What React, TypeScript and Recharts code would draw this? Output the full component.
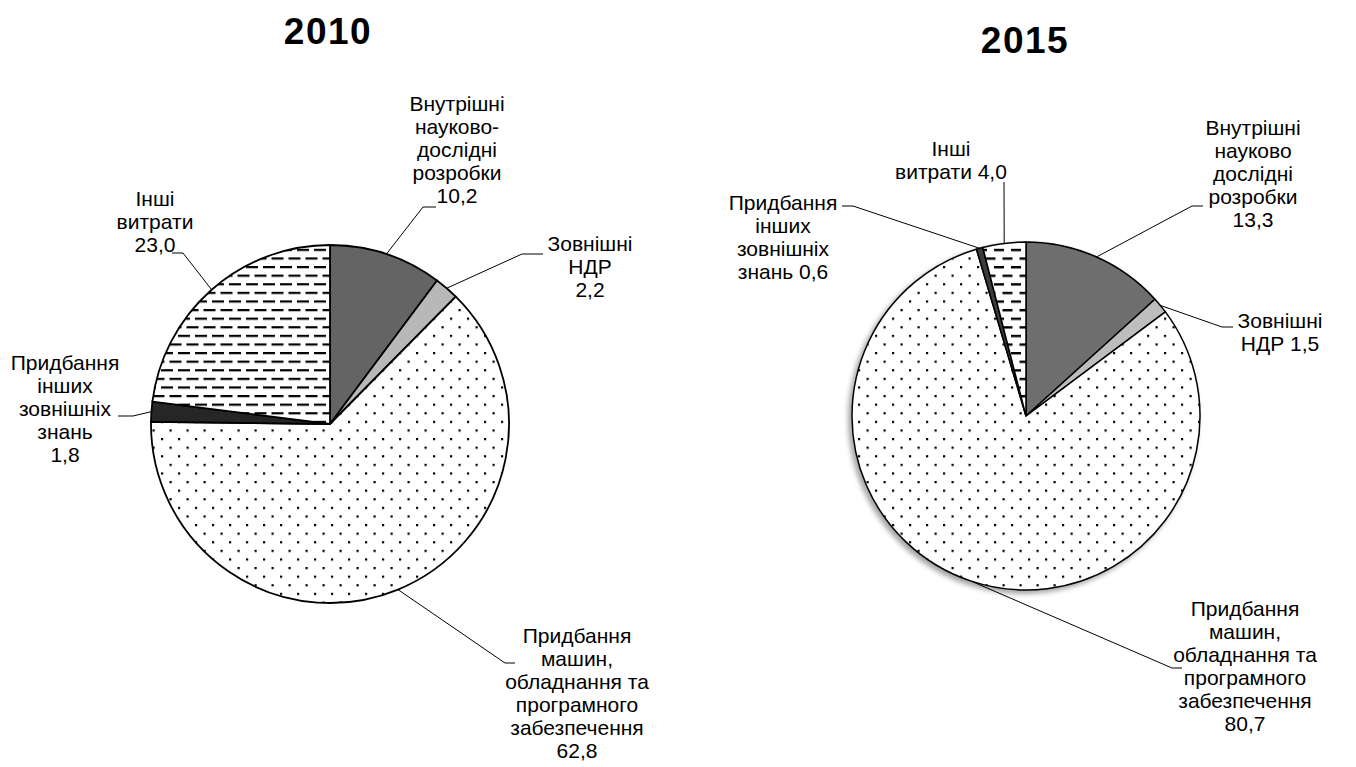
import React from 'react';
import { PieChart, Pie, Cell } from 'recharts';

// ---------- data ----------
const categories = [
  'Внутрішні науково-дослідні розробки',
  'Зовнішні НДР',
  'Придбання машин, обладнання та програмного забезпечення',
  'Придбання інших зовнішніх знань',
  'Інші витрати',
];
const years = ['2010', '2015'];
const values2010 = [10.2, 2.2, 62.8, 1.8, 23.0];
const values2015 = [13.3, 1.5, 80.7, 0.6, 4.0];

const labelLines2010 = [
  ['Внутрішні', 'науково-', 'дослідні', 'розробки'],
  ['Зовнішні', 'НДР'],
  ['Придбання', 'машин,', 'обладнання та', 'програмного', 'забезпечення'],
  ['Придбання', 'інших', 'зовнішніх', 'знань'],
  ['Інші', 'витрати'],
];
const valueInline2010 = [false, false, false, false, false];

const labelLines2015 = [
  ['Внутрішні', 'науково', 'дослідні', 'розробки'],
  ['Зовнішні', 'НДР'],
  ['Придбання', 'машин,', 'обладнання та', 'програмного', 'забезпечення'],
  ['Придбання', 'інших', 'зовнішніх', 'знань'],
  ['Інші', 'витрати'],
];
const valueInline2015 = [false, true, false, true, true];

// ---------- layout (page coordinates) ----------
const OFF = 8;
type LabelLayout = { tx: number; ty: number; pts: number[][] };
const layout2010: LabelLayout[] = [
  { tx: 457, ty: 103, pts: [[423, 207], [436, 207]] },
  { tx: 590, ty: 243, pts: [[522, 254], [543, 254]] },
  { tx: 577, ty: 635, pts: [[505, 663], [515, 663]] },
  { tx: 65, ty: 362, pts: [[133, 416], [118, 416]] },
  { tx: 155, ty: 198, pts: [[183, 253], [172, 253]] },
];
const layout2015: LabelLayout[] = [
  { tx: 1253, ty: 127, pts: [[1192, 206], [1203, 206]] },
  { tx: 1280, ty: 320, pts: [[1222, 327], [1233, 327]] },
  { tx: 1245, ty: 608, pts: [[1172, 668], [1182, 668]] },
  { tx: 783, ty: 202, pts: [[853, 206], [842, 206]] },
  { tx: 951, ty: 148, pts: [[1004, 182]] },
];

const fills2010 = ['#646464', '#b8b8b8', 'url(#dots)', '#262626', 'url(#dashes)'];
const fills2015 = ['#6e6e6e', '#bdbdbd', 'url(#dots)', '#3c3c3c', 'url(#dashes2)'];

const FONT = '"Liberation Sans", Arial, sans-serif';
const LINE_H = 23;
const RAD = Math.PI / 180;

const fmt = (v: number) => v.toFixed(1).replace('.', ',');

const makeLabel = (
  lines: string[][],
  inline: boolean[],
  layout: LabelLayout[],
  values: number[]
) => (props: any) => {
  const { cx, cy, midAngle, outerRadius, index } = props;
  const ax = cx + outerRadius * Math.cos(-midAngle * RAD);
  const ay = cy + outerRadius * Math.sin(-midAngle * RAD);
  const L = layout[index];
  const txt = [...lines[index]];
  const val = fmt(values[index]);
  if (inline[index]) txt[txt.length - 1] = txt[txt.length - 1] + ' ' + val;
  else txt.push(val);
  const pts = [[ax, ay], ...L.pts.map(([x, y]) => [x - OFF, y - OFF])];
  return (
    <g key={'lbl' + index}>
      <polyline
        points={pts.map((p) => p.join(',')).join(' ')}
        fill="none"
        stroke="#000"
        strokeWidth={1}
      />
      {txt.map((t, i) => (
        <text
          key={i}
          x={L.tx - OFF}
          y={L.ty - OFF + i * LINE_H}
          textAnchor="middle"
          dominantBaseline="central"
          fontFamily={FONT}
          fontSize={21}
          fill="#000"
        >
          {t}
        </text>
      ))}
    </g>
  );
};

const data2010 = categories.map((name, i) => ({ name, value: values2010[i] }));
const data2015 = categories.map((name, i) => ({ name, value: values2015[i] }));

export default function App() {
  return (
    <div style={{ width: 1340, height: 759, background: '#fff' }}>
      <style>{'html,body{overflow:hidden;}'}</style>
      <PieChart width={1340} height={759} margin={{ top: 0, right: 0, bottom: 0, left: 0 }}>
        <defs>
          <pattern id="dots" patternUnits="userSpaceOnUse" width="17" height="17.2">
            <rect width="17" height="17.2" fill="#fff" />
            <rect x="0" y="0" width="2.2" height="2.2" fill="#000" />
            <rect x="8.5" y="8.6" width="2.2" height="2.2" fill="#000" />
          </pattern>
          <pattern id="dashes" patternUnits="userSpaceOnUse" width="17" height="17.2">
            <rect width="17" height="17.2" fill="#fff" />
            <rect x="0" y="0" width="12" height="2.2" fill="#000" />
            <rect x="8.5" y="8.6" width="12" height="2.2" fill="#000" />
            <rect x="-8.5" y="8.6" width="12" height="2.2" fill="#000" />
          </pattern>
          <pattern id="dashes2" patternUnits="userSpaceOnUse" width="17" height="17.2">
            <rect width="17" height="17.2" fill="#fff" />
            <rect x="0" y="0" width="10" height="2.4" fill="#000" />
            <rect x="8.5" y="8.6" width="10" height="2.4" fill="#000" />
            <rect x="-8.5" y="8.6" width="10" height="2.4" fill="#000" />
          </pattern>
          <filter id="softShadow" x="-20%" y="-20%" width="140%" height="140%">
            <feGaussianBlur stdDeviation="2.5" />
          </filter>
        </defs>
        <text
          x={328 - OFF}
          y={31 - OFF}
          textAnchor="middle"
          dominantBaseline="central"
          fontFamily={FONT}
          fontWeight="bold"
          fontSize={37}
          letterSpacing={1.5}
        >
          {years[0]}
        </text>
        <text
          x={1025 - OFF}
          y={40 - OFF}
          textAnchor="middle"
          dominantBaseline="central"
          fontFamily={FONT}
          fontWeight="bold"
          fontSize={37}
          letterSpacing={1.5}
        >
          {years[1]}
        </text>
        <Pie
          data={data2010}
          dataKey="value"
          nameKey="name"
          cx={330 - OFF}
          cy={424 - OFF}
          outerRadius={179}
          startAngle={90}
          endAngle={-270}
          stroke="#000"
          strokeWidth={1.8}
          isAnimationActive={false}
          labelLine={false}
          label={makeLabel(labelLines2010, valueInline2010, layout2010, values2010)}
        >
          {data2010.map((_, i) => (
            <Cell key={i} fill={fills2010[i]} />
          ))}
        </Pie>
        <Pie
          data={data2015}
          dataKey="value"
          nameKey="name"
          cx={1023 - OFF}
          cy={419 - OFF}
          outerRadius={175}
          startAngle={90}
          endAngle={-270}
          stroke="none"
          isAnimationActive={false}
          labelLine={false}
          label={false}
        >
          {data2015.map((_, i) => (
            <Cell key={i} fill="rgba(0,0,0,0.35)" filter="url(#softShadow)" />
          ))}
        </Pie>
        <Pie
          data={data2015}
          dataKey="value"
          nameKey="name"
          cx={1026 - OFF}
          cy={416 - OFF}
          outerRadius={174}
          startAngle={90}
          endAngle={-270}
          stroke="#000"
          strokeWidth={1.5}
          isAnimationActive={false}
          labelLine={false}
          label={makeLabel(labelLines2015, valueInline2015, layout2015, values2015)}
        >
          {data2015.map((_, i) => (
            <Cell key={i} fill={fills2015[i]} />
          ))}
        </Pie>
      </PieChart>
    </div>
  );
}
